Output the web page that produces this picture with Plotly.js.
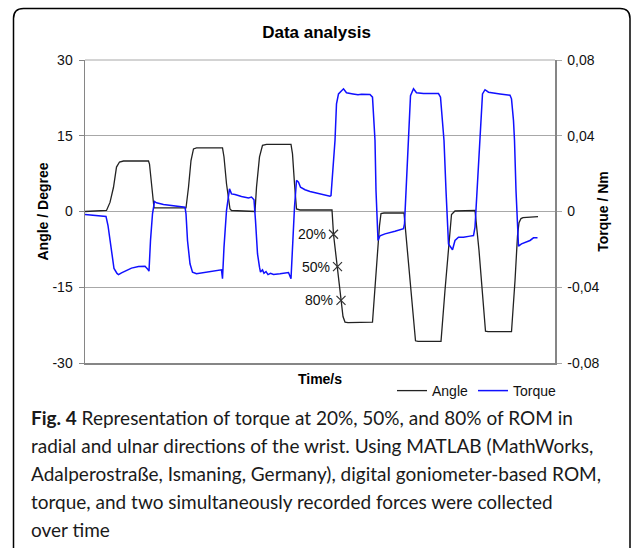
<!DOCTYPE html>
<html>
<head>
<meta charset="utf-8">
<script src="https://cdn.plot.ly/plotly-3.0.1.min.js"></script>
<style>
  html, body { margin: 0; padding: 0; background: #fff; }
  #chart { width: 633px; height: 548px; }
</style>
</head>
<body>
<div id="chart"></div>
<script>
// ---------- data ----------
var angleTime = [0, 4.3, 5.0, 5.7, 6.3, 6.9, 7.7, 12.7, 12.9, 13.3, 13.8, 14.3,
  20.2, 20.7, 21.2, 21.7, 22.3, 27.5, 27.8, 28.3, 29.0, 29.3, 34.0,
  34.3, 34.9, 35.5, 36.3, 41.2, 41.5, 41.9, 42.3, 43.0, 49.4,
  49.7, 50.5, 51.2, 51.6, 52.0, 52.6, 57.5, 58.2, 58.9, 59.2, 59.8, 63.8,
  64.4, 65.4, 66.1, 66.6, 71.2, 72.0, 72.8, 73.3, 74.0, 78.0,
  78.8, 79.6, 80.1, 80.6, 85.3, 86.0, 86.5, 86.8, 87.2, 87.6, 90.6];
var angleValues = [0, 0.2, 1.8, 4.8, 8.8, 9.8, 10.0, 10.0, 9.4, 4.8, 0.7, 0.7,
  0.7, 4.8, 10.1, 12.4, 12.6, 12.6, 10.8, 5.5, 0.5, 0.2, 0,
  4.8, 10.8, 13.1, 13.3, 13.3, 11.4, 5.5, 0.5, 0.3, 0.3,
  -4.5, -10.9, -17.6, -20.8, -21.9, -22.0, -21.9, -11.7, -2.8, -0.4, -0.3, -0.3,
  -6.7, -17.6, -25.6, -25.7, -25.7, -15.6, -5.7, -0.6, 0.1, 0.2,
  -7.7, -17.6, -23.7, -23.8, -23.8, -13.7, -4.8, -2.2, -1.4, -1.2, -1.0];

var torqueTime = [0, 1.0, 2.0, 4.2, 4.6, 5.0, 5.4, 5.8, 6.4, 6.7, 7.3, 8.3, 9.3, 10.7, 12.0, 12.5, 12.8,
  13.1, 13.5, 13.9, 14.3, 15.7, 17.7, 20.0,
  20.2, 20.5, 21.0, 21.5, 22.3, 24.3, 26.3, 27.3, 27.5,
  27.8, 28.3, 28.9, 29.3, 30.0, 31.3, 32.7, 33.3, 33.8,
  34.1, 34.5, 34.9, 35.1, 35.5, 35.8, 36.2, 36.6, 37.1, 37.7, 39.0, 40.7, 41.2,
  41.5, 41.9, 42.3, 42.7, 43.1, 44.0, 45.0, 48.0, 49.0, 49.2,
  49.6, 50.0, 50.3, 50.7, 51.7, 52.3, 53.6, 54.6, 55.3, 57.0, 57.5, 57.7, 58.0,
  58.2, 58.5, 58.6, 59.0, 60.0, 62.0, 63.3, 63.7,
  63.9, 64.7, 64.9, 65.1, 65.7, 66.3, 67.7, 70.7, 71.1, 71.3, 71.8,
  72.2, 72.7, 73.5, 74.0, 74.7, 75.7, 77.0, 77.7,
  78.0, 79.0, 79.2, 79.5, 80.0, 80.7, 83.0, 85.0, 85.3, 85.7, 85.9,
  86.2, 86.7, 87.3, 89.0, 89.7, 90.5];
var torqueValues = [-0.0016, -0.0018, -0.0024, -0.0026, -0.0074, -0.0153, -0.0232, -0.0301, -0.0327, -0.0333, -0.0324, -0.0312, -0.0299, -0.0290, -0.0289, -0.0303, -0.0315,
  -0.0153, -0.0012, 0.0053, 0.0046, 0.0037, 0.0030, 0.0023,
  -0.0012, -0.0153, -0.0276, -0.0320, -0.0329, -0.0320, -0.0312, -0.0308, -0.0355,
  -0.0188, 0.0005, 0.0120, 0.0093, 0.0090, 0.0079, 0.0072, 0.0076, 0.0062,
  -0.0048, -0.0223, -0.0294, -0.0320, -0.0308, -0.0326, -0.0317, -0.0333, -0.0326, -0.0333, -0.0329, -0.0322, -0.0355,
  -0.0188, 0.0023, 0.0164, 0.0155, 0.0128, 0.0115, 0.0106, 0.0090, 0.0081, 0.0084,
  0.0216, 0.0375, 0.0569, 0.0621, 0.0648, 0.0627, 0.0621, 0.0616, 0.0619, 0.0618, 0.0604, 0.0533, 0.0375,
  0.0111, -0.0144, -0.0153, -0.0128, -0.0118, -0.0104, -0.0097, -0.0091,
  -0.0065, 0.0375, 0.0533, 0.0612, 0.0648, 0.0627, 0.0623, 0.0623, 0.0604, 0.0533, 0.0375,
  0.0111, -0.0171, -0.0202, -0.0153, -0.0136, -0.0136, -0.0130, -0.0127,
  -0.0083, 0.0375, 0.0533, 0.0621, 0.0643, 0.0630, 0.0621, 0.0614, 0.0595, 0.0480, 0.0375,
  0.0111, -0.0183, -0.0171, -0.0153, -0.0139, -0.0139];

var markerTime = [49.7, 50.5, 51.2];
var markerAngle = [-4.5, -10.9, -17.6];
var markerLabels = ['20%', '50%', '80%'];

var leftTickVals = [-30, -15, 0, 15, 30];
var leftTickText = ['-30', '-15', '0', '15', '30'];
var rightTickVals = [-0.08, -0.04, 0, 0.04, 0.08];
var rightTickText = ['-0,08', '-0,04', '0', '0,04', '0,08'];

var captionLines = [
  '<b>Fig. 4</b> Representation of torque at 20%, 50%, and 80% of ROM in',
  'radial and ulnar directions of the wrist. Using MATLAB (MathWorks,',
  'Adalperostraße, Ismaning, Germany), digital goniometer-based ROM,',
  'torque, and two simultaneously recorded forces were collected',
  'over time'
];

// ---------- layout helpers ----------
var W = 633, H = 548;
var M = {l: 85, r: 78, t: 60, b: 185};
var PW = W - M.l - M.r, PH = H - M.t - M.b;
function px2x(px) { return (px - M.l) / PW; }
function px2y(py) { return (H - M.b - py) / PH; }

var ARIAL = 'Arial, "Liberation Sans", sans-serif';
var AXIS_GREY = '#868686';
var GRID_GREY = '#a8a8a8';

var traces = [
  {x: angleTime, y: angleValues, type: 'scatter', mode: 'lines', name: 'Angle',
   line: {color: '#222222', width: 1.3}, yaxis: 'y'},
  {x: torqueTime, y: torqueValues, type: 'scatter', mode: 'lines', name: 'Torque',
   line: {color: '#1010ff', width: 1.5}, yaxis: 'y2'},
  {x: markerTime, y: markerAngle, type: 'scatter', mode: 'markers', showlegend: false,
   marker: {symbol: 'x-thin-open', size: 9, color: '#333', line: {width: 1.2, color: '#333'}},
   yaxis: 'y', hoverinfo: 'skip'}
];

var annotations = markerTime.map(function (t, i) {
  return {x: t, y: markerAngle[i], xref: 'x', yref: 'y', text: markerLabels[i],
    showarrow: false, xanchor: 'right', yanchor: 'middle', xshift: -6,
    font: {family: ARIAL, size: 14, color: '#111'}};
});

var capY = [417, 445, 473, 501, 529];
captionLines.forEach(function (line, i) {
  annotations.push({x: px2x(29), y: px2y(capY[i]), xref: 'paper', yref: 'paper',
    text: line, showarrow: false, xanchor: 'left', yanchor: 'middle',
    font: {family: 'Lato, "Open Sans", sans-serif', size: 19, color: '#1a1a1a'}});
});

var frame = 'M' + px2x(13.5) + ',' + px2y(600) +
  ' L' + px2x(13.5) + ',' + px2y(18.5) +
  ' Q' + px2x(13.5) + ',' + px2y(8.5) + ' ' + px2x(23.5) + ',' + px2y(8.5) +
  ' L' + px2x(620) + ',' + px2y(8.5) +
  ' Q' + px2x(630) + ',' + px2y(8.5) + ' ' + px2x(630) + ',' + px2y(18.5) +
  ' L' + px2x(630) + ',' + px2y(600);

var layout = {
  width: W, height: H,
  margin: M,
  paper_bgcolor: '#fff', plot_bgcolor: '#fff',
  showlegend: true,
  title: {text: 'Data analysis', x: 0.5, xref: 'container', xanchor: 'center',
    y: 1 - 32 / H, yref: 'container', yanchor: 'middle',
    font: {family: ARIAL, size: 17, color: '#000', weight: 'bold'}},
  xaxis: {range: [0, 94], showgrid: false, zeroline: false, showticklabels: false,
    ticks: '', showline: true, linecolor: AXIS_GREY, linewidth: 1.5,
    title: {text: '<b>Time/s</b>', standoff: 10, font: {family: ARIAL, size: 14, color: '#000'}},
    fixedrange: true},
  yaxis: {range: [-30, 30], tickvals: leftTickVals, ticktext: leftTickText,
    showgrid: true, gridcolor: GRID_GREY, gridwidth: 1, zeroline: false,
    showline: true, linecolor: AXIS_GREY, linewidth: 1.5,
    ticks: 'outside', ticklen: 5, tickcolor: AXIS_GREY, tickwidth: 1,
    ticklabelstandoff: 3,
    tickfont: {family: ARIAL, size: 14, color: '#111'},
    title: {text: '<b>Angle / Degree</b>', standoff: 0, font: {family: ARIAL, size: 14, color: '#000'}},
    fixedrange: true},
  yaxis2: {range: [-0.08, 0.08], overlaying: 'y', side: 'right',
    tickvals: rightTickVals, ticktext: rightTickText,
    showgrid: false, zeroline: false,
    showline: true, linecolor: AXIS_GREY, linewidth: 1.5,
    ticks: 'outside', ticklen: 5, tickcolor: GRID_GREY, tickwidth: 1,
    ticklabelstandoff: 3,
    tickfont: {family: ARIAL, size: 14, color: '#111'},
    title: {text: '<b>Torque / Nm</b>', standoff: 0, font: {family: ARIAL, size: 14, color: '#000'}},
    fixedrange: true},
  legend: {orientation: 'h', x: px2x(392), y: px2y(391), xanchor: 'left', yanchor: 'middle',
    font: {family: ARIAL, size: 14, color: '#111'}, bgcolor: 'rgba(0,0,0,0)',
    itemwidth: 30, tracegroupgap: 0},
  annotations: annotations,
  shapes: [
    {type: 'line', xref: 'paper', yref: 'paper', x0: 0, x1: 1, y0: 1, y1: 1,
     line: {color: GRID_GREY, width: 1}},
    {type: 'path', xref: 'paper', yref: 'paper', path: frame,
     line: {color: '#000', width: 1.5}, fillcolor: 'rgba(0,0,0,0)'}
  ]
};

Plotly.newPlot('chart', traces, layout, {displayModeBar: false, staticPlot: true});
</script>
</body>
</html>
